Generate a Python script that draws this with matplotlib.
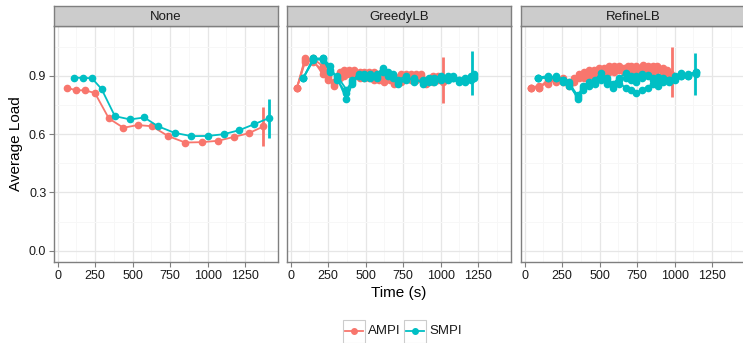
import matplotlib
matplotlib.use('Agg')
import matplotlib.pyplot as plt
from matplotlib.patches import Rectangle
from matplotlib.lines import Line2D

plt.rcParams['font.family'] = ['Liberation Sans', 'DejaVu Sans']

# ---- data ----
panels = ['None', 'GreedyLB', 'RefineLB']
series = ['AMPI', 'SMPI']
colors = {'AMPI': '#F8766D', 'SMPI': '#00BFC4'}

none_ampi_t = [62, 119, 181, 248, 341, 438, 533, 628, 737, 850, 960, 1069, 1175, 1274, 1372]
none_ampi_v = [0.840, 0.826, 0.826, 0.812, 0.681, 0.633, 0.647, 0.641, 0.590, 0.557,
               0.559, 0.566, 0.586, 0.605, 0.640]
none_smpi_t = [106, 168, 228, 292, 381, 482, 577, 668, 779, 892, 1000, 1108, 1212, 1312, 1409]
none_smpi_v = [0.891, 0.890, 0.888, 0.833, 0.693, 0.676, 0.686, 0.641, 0.607, 0.590,
               0.591, 0.600, 0.621, 0.652, 0.683]

greedy_ampi_t = [42, 95, 150, 213, 250, 291, 330, 357, 390, 424, 460, 491, 525, 557,
                 590, 624, 660, 691, 735, 770, 802, 835, 869, 905, 946, 980, 1013]
greedy_ampi_runs = [
    [0.84, 0.99, 0.97, 0.93, 0.90, 0.86, 0.91, 0.93, 0.91, 0.93, 0.90, 0.92, 0.89, 0.89,
     0.91, 0.87, 0.89, 0.90, 0.88, 0.91, 0.90, 0.88, 0.91, 0.88, 0.87, 0.89, 0.88],
    [0.84, 0.98, 0.99, 0.95, 0.88, 0.87, 0.89, 0.92, 0.93, 0.90, 0.92, 0.89, 0.90, 0.92,
     0.88, 0.90, 0.88, 0.86, 0.91, 0.89, 0.88, 0.91, 0.89, 0.86, 0.90, 0.88, 0.89],
    [0.84, 0.97, 0.98, 0.91, 0.89, 0.85, 0.92, 0.90, 0.92, 0.91, 0.89, 0.91, 0.92, 0.88,
     0.90, 0.89, 0.90, 0.88, 0.87, 0.90, 0.91, 0.89, 0.90, 0.87, 0.88, 0.90, 0.87],
]
greedy_smpi_t = [84, 151, 218, 264, 309, 371, 410, 453, 490, 531, 575, 615, 650, 684,
                 717, 770, 825, 880, 920, 958, 1000, 1046, 1085, 1124, 1165, 1202, 1224]
greedy_smpi_runs = [
    [0.89, 0.99, 0.99, 0.93, 0.89, 0.78, 0.86, 0.90, 0.90, 0.90, 0.91, 0.94, 0.92, 0.91,
     0.87, 0.89, 0.88, 0.87, 0.88, 0.88, 0.89, 0.90, 0.89, 0.87, 0.88, 0.89, 0.90],
    [0.89, 0.98, 0.99, 0.95, 0.88, 0.81, 0.88, 0.90, 0.91, 0.89, 0.90, 0.92, 0.90, 0.89,
     0.88, 0.90, 0.87, 0.88, 0.89, 0.87, 0.88, 0.89, 0.90, 0.88, 0.87, 0.90, 0.91],
    [0.89, 0.99, 0.98, 0.92, 0.90, 0.83, 0.87, 0.91, 0.89, 0.91, 0.89, 0.93, 0.91, 0.90,
     0.86, 0.88, 0.89, 0.86, 0.87, 0.89, 0.90, 0.88, 0.89, 0.88, 0.89, 0.88, 0.89],
]

refine_ampi_t = [42, 97, 153, 209, 253, 297, 330, 364, 397, 431, 464, 497, 530, 564,
                 597, 631, 660, 686, 709, 745, 786, 820, 853, 885, 919, 950, 975]
refine_ampi_runs = [
    [0.84, 0.84, 0.87, 0.89, 0.88, 0.86, 0.89, 0.89, 0.91, 0.93, 0.90, 0.94, 0.92, 0.94,
     0.93, 0.95, 0.93, 0.92, 0.95, 0.93, 0.955, 0.94, 0.95, 0.93, 0.94, 0.92, 0.90],
    [0.84, 0.85, 0.86, 0.88, 0.87, 0.85, 0.88, 0.91, 0.89, 0.92, 0.92, 0.91, 0.94, 0.92,
     0.95, 0.93, 0.94, 0.95, 0.93, 0.95, 0.93, 0.95, 0.92, 0.95, 0.93, 0.91, 0.91],
    [0.84, 0.84, 0.88, 0.87, 0.89, 0.87, 0.87, 0.90, 0.92, 0.90, 0.93, 0.92, 0.91, 0.95,
     0.92, 0.94, 0.92, 0.93, 0.94, 0.92, 0.94, 0.92, 0.94, 0.94, 0.92, 0.93, 0.89],
]
refine_smpi_t = [86, 153, 209, 253, 297, 353, 390, 431, 470, 509, 548, 586, 630, 675,
                 709, 742, 780, 819, 853, 886, 920, 960, 1000, 1042, 1090, 1142]
refine_smpi_runs = [
    [0.89, 0.89, 0.90, 0.88, 0.87, 0.78, 0.83, 0.86, 0.88, 0.915, 0.89, 0.86, 0.89,
     0.915, 0.90, 0.90, 0.91, 0.905, 0.89, 0.895, 0.88, 0.87, 0.90, 0.915, 0.90, 0.92],
    [0.89, 0.89, 0.89, 0.87, 0.86, 0.80, 0.84, 0.85, 0.87, 0.88, 0.86, 0.84, 0.86, 0.84,
     0.83, 0.81, 0.83, 0.84, 0.86, 0.85, 0.87, 0.88, 0.89, 0.90, 0.91, 0.92],
    [0.89, 0.90, 0.89, 0.88, 0.85, 0.79, 0.85, 0.87, 0.86, 0.90, 0.88, 0.85, 0.88, 0.89,
     0.88, 0.87, 0.89, 0.90, 0.88, 0.86, 0.89, 0.88, 0.88, 0.90, 0.90, 0.91],
]

# error bars at the last point: (time, low, high)
err_bars = {
    'None': {'AMPI': (1372, 0.541, 0.740), 'SMPI': (1409, 0.581, 0.783)},
    'GreedyLB': {'AMPI': (1013, 0.76, 0.995), 'SMPI': (1209, 0.80, 1.026)},
    'RefineLB': {'AMPI': (985, 0.79, 1.047), 'SMPI': (1135, 0.80, 1.02)},
}

runs = {
    'None': {'AMPI': (none_ampi_t, [none_ampi_v]), 'SMPI': (none_smpi_t, [none_smpi_v])},
    'GreedyLB': {'AMPI': (greedy_ampi_t, greedy_ampi_runs),
                 'SMPI': (greedy_smpi_t, greedy_smpi_runs)},
    'RefineLB': {'AMPI': (refine_ampi_t, refine_ampi_runs),
                 'SMPI': (refine_smpi_t, refine_smpi_runs)},
}

x_ticks = [0, 250, 500, 750, 1000, 1250]
y_ticks = [0.0, 0.3, 0.6, 0.9]

# ---- layout (pixels) ----
W, H = 743, 343
fig = plt.figure(figsize=(W / 100, H / 100), dpi=100)


def px_axes(x0, x1, y0, y1):
    return fig.add_axes([x0 / W, 1 - y1 / H, (x1 - x0) / W, (y1 - y0) / H])


panel_x = [(54, 278), (287, 511), (521, 745)]
for i, name in enumerate(panels):
    x0, x1 = panel_x[i]
    ax = px_axes(x0, x1, 26, 262)
    ax.set_xlim(-25, 1469)
    ax.set_ylim(-0.058, 1.157)
    ax.set_xticks(x_ticks)
    ax.set_xticks([125, 375, 625, 875, 1125, 1375], minor=True)
    ax.set_yticks(y_ticks)
    ax.set_yticks([0.15, 0.45, 0.75, 1.05], minor=True)
    ax.grid(True, which='major', color='#E6E6E6', lw=0.9)
    ax.grid(True, which='minor', color='#F7F7F7', lw=0.7)
    ax.set_axisbelow(True)
    for s in ax.spines.values():
        s.set_color('#7F7F7F')
        s.set_linewidth(1.0)
    ax.tick_params(which='major', length=3.5, color='#7F7F7F', labelsize=9,
                   labelcolor='#1a1a1a', pad=2)
    ax.tick_params(which='minor', length=0)
    if i == 0:
        ax.set_yticklabels(['0.0', '0.3', '0.6', '0.9'])
        ax.set_ylabel('Average Load', fontsize=11, labelpad=4)
    else:
        ax.tick_params(axis='y', which='major', length=0, labelleft=False)
    if i == 1:
        ax.set_xlabel('Time (s)', fontsize=11, labelpad=3)

    for s_name in series:
        t, vals = runs[name][s_name]
        c = colors[s_name]
        for v in vals:
            ax.plot(t, v, color=c, lw=1.3, marker='o', ms=4.5, mec=c, zorder=3)
        et, lo, hi = err_bars[name][s_name]
        ax.vlines(et, lo, hi, color=c, lw=2.0, zorder=3)

    # facet strip
    sax = px_axes(x0, x1, 6, 26)
    sax.set_facecolor('#CCCCCC')
    sax.set_xticks([])
    sax.set_yticks([])
    for s in sax.spines.values():
        s.set_color('#7F7F7F')
        s.set_linewidth(1.0)
    sax.text(0.5, 0.45, name, ha='center', va='center', fontsize=9.5,
             color='#1a1a1a', transform=sax.transAxes)

# ---- legend (drawn by hand, ggplot style) ----
key_y0, key_y1 = 320, 343
for k, s_name in enumerate(series):
    kx0 = 343 + k * 61
    fig.patches.append(Rectangle((kx0 / W, 1 - key_y1 / H), 22 / W, (key_y1 - key_y0) / H,
                                 transform=fig.transFigure, facecolor='white',
                                 edgecolor='#CCCCCC', lw=0.8))
    yc = 1 - 331 / H
    fig.lines.append(Line2D([(kx0 + 2) / W, (kx0 + 20) / W], [yc, yc],
                            transform=fig.transFigure, color=colors[s_name], lw=1.3))
    fig.lines.append(Line2D([(kx0 + 11) / W], [yc], transform=fig.transFigure,
                            color=colors[s_name], marker='o', ms=4))
    fig.text((kx0 + 25) / W, yc, s_name, ha='left', va='center', fontsize=9.5,
             color='#1a1a1a')

fig.savefig('out.png', dpi=100)
